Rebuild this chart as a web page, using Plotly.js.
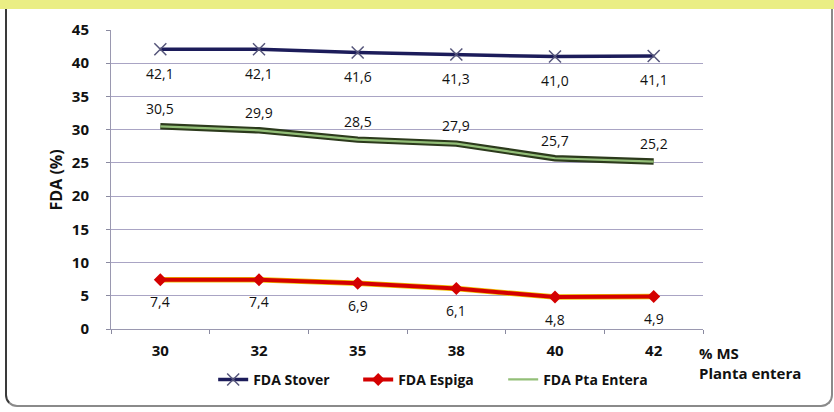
<!DOCTYPE html>
<html>
<head>
<meta charset="utf-8">
<script src="https://cdn.plot.ly/plotly-3.0.1.min.js"></script>
<style>
  html, body { margin: 0; padding: 0; background: #ffffff; }
  #wrap { position: relative; width: 834px; height: 412px; overflow: hidden; background: #fff; }
  #band { position: absolute; left: 0; top: 0; width: 834px; height: 9px; background: #eaee84; }
  #frame { position: absolute; left: 5px; top: 9px; width: 824px; height: 396px;
           border-left: 2px solid #3a3a3a; border-bottom: 2px solid #8a8a8a; border-right: 2px solid #8a8a8a;
           border-bottom-left-radius: 12px; border-bottom-right-radius: 12px; }
  #chart { position: absolute; left: 0; top: 0; width: 834px; height: 412px; }
</style>
</head>
<body>
<div id="wrap">
  <div id="band"></div>
  <div id="frame"></div>
  <div id="chart"></div>
</div>
<script>
const categories = ["30", "32", "35", "38", "40", "42"];
const fdaStover = [42.1, 42.1, 41.6, 41.3, 41.0, 41.1];
const fdaEspiga = [7.4, 7.4, 6.9, 6.1, 4.8, 4.9];
const fdaPtaEntera = [30.5, 29.9, 28.5, 27.9, 25.7, 25.2];
const yTicks = [0, 5, 10, 15, 20, 25, 30, 35, 40, 45];

const labelFont = { family: "Open Sans, Noto Sans, sans-serif", size: 14, color: "#111" };

const traces = [
  {
    x: categories, y: fdaStover, name: "FDA Stover", type: "scatter", mode: "lines+markers",
    line: { color: "#1c1c5a", width: 3.5 },
    marker: { symbol: "x-thin", size: 12, line: { color: "#55557a", width: 1.5 }, color: "#55557a" },
    hoverinfo: "x+y"
  },
  {
    x: categories, y: fdaEspiga, name: "FDA Espiga (sombra)", type: "scatter", mode: "lines",
    line: { color: "#f0c000", width: 5.5 }, showlegend: false, hoverinfo: "skip"
  },
  {
    x: categories, y: fdaEspiga, name: "FDA Espiga", type: "scatter", mode: "lines+markers",
    line: { color: "#d40000", width: 4 },
    marker: { symbol: "diamond", size: 10, color: "#d40000" },
    hoverinfo: "x+y"
  },
  {
    x: categories, y: fdaPtaEntera, name: "FDA Pta Entera (borde)", type: "scatter", mode: "lines",
    line: { color: "#2c3a1c", width: 6.5 }, showlegend: false, hoverinfo: "skip"
  },
  {
    x: categories, y: fdaPtaEntera, name: "FDA Pta Entera", type: "scatter", mode: "lines",
    line: { color: "#93bf78", width: 2.2 },
    hoverinfo: "x+y"
  }
];

function labels(values, shift) {
  return values.map((v, i) => ({
    x: i, y: v, xref: "x", yref: "y",
    text: v.toFixed(1).replace(".", ","), showarrow: false,
    yshift: shift, font: labelFont
  }));
}

const boldFont = (size) => ({ family: "Open Sans, sans-serif", size: size, color: "#111", weight: "bold" });

const annotations = []
  .concat(labels(fdaStover, -24))
  .concat(labels(fdaPtaEntera, 18))
  .concat(labels(fdaEspiga, -22))
  .concat([{
    xref: "paper", yref: "paper", x: 0.99, y: -0.115, xanchor: "left", yanchor: "middle",
    text: "% MS<br>Planta entera", showarrow: false, align: "left",
    font: boldFont(15)
  }, {
    xref: "paper", yref: "paper", x: -0.093, y: 0.5, xanchor: "center", yanchor: "middle",
    text: "FDA (%)", showarrow: false, textangle: -90,
    font: boldFont(16)
  }]);

const layout = {
  width: 834, height: 412,
  margin: { l: 111, r: 131, t: 30, b: 83 },
  paper_bgcolor: "rgba(0,0,0,0)", plot_bgcolor: "rgba(0,0,0,0)",
  separators: ",.",
  showlegend: true,
  legend: {
    orientation: "h", x: 0.54, xanchor: "center", y: -0.17, yanchor: "middle",
    font: boldFont(14),
    bgcolor: "rgba(0,0,0,0)", itemwidth: 30, tracegroupgap: 0, entrywidth: 100
  },
  xaxis: {
    type: "category", categoryorder: "array", categoryarray: categories,
    range: [-0.5, 5.5], tickson: "boundaries",
    ticks: "outside", ticklen: 4, tickcolor: "#8a8aa0",
    showline: true, linecolor: "#9a98b0", linewidth: 1,
    showgrid: false, zeroline: false,
    tickfont: boldFont(15),
    ticklabelstandoff: 8
  },
  yaxis: {
    range: [0, 45], tickvals: yTicks, ticktext: yTicks.map(String),
    ticks: "outside", ticklen: 4, tickcolor: "#8a8aa0",
    showline: true, linecolor: "#9a98b0", linewidth: 1,
    showgrid: true, gridcolor: "#a9a4c4", gridwidth: 1, zeroline: false,
    tickfont: boldFont(15),
    ticklabelstandoff: 14
  },
  annotations: annotations
};

Plotly.newPlot("chart", traces, layout, { displayModeBar: false, staticPlot: true });
</script>
</body>
</html>
